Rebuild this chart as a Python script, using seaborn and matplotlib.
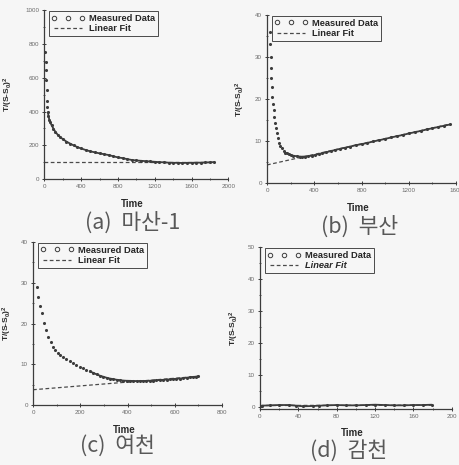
import pandas as pd
import matplotlib.pyplot as plt
from matplotlib.lines import Line2D
from matplotlib.ticker import MultipleLocator, AutoMinorLocator
import seaborn as sns

# (a) 마산-1
a_time = [10, 14, 18, 22, 26, 30, 34, 40, 45, 55, 65, 80, 100, 120, 145, 170, 200, 240, 280, 320,
          360, 400, 450, 500, 550, 600, 650, 700, 750, 800, 850, 900, 950, 1000, 1050, 1100, 1150,
          1200, 1250, 1300, 1350, 1400, 1450, 1500, 1550, 1600, 1650, 1700, 1750, 1800, 1840]
a_val = [750, 695, 645, 585, 530, 465, 428, 395, 375, 350, 335, 318, 298, 280, 263, 250, 237, 222, 210, 199,
         189, 181, 172, 164, 158, 152, 147, 142, 135, 128, 124, 118, 113, 110, 108, 106, 104,
         102, 100, 99, 97, 96, 96, 95, 96, 96, 97, 97, 98, 99, 100]
a_fit_time = [0, 1840]
a_fit_val = [100, 100]

# (b) 부산
b_time = [25, 28, 30, 33, 36, 40, 45, 50, 55, 62, 68, 76, 82, 90, 102, 112, 124, 140, 155, 167,
          185, 200, 223, 250, 275, 294, 320, 350, 378, 410, 440, 463, 500, 540, 576, 620, 660, 700,
          750, 800, 850, 900, 950, 1000, 1050, 1100, 1150, 1200, 1250, 1300, 1350, 1400, 1450, 1500, 1550]
b_val = [36, 33, 30.1, 27.5, 25, 22.9, 20.5, 18.8, 17.4, 15.8, 14.2, 13.0, 11.8, 10.6, 9.45, 8.8, 8.26, 7.6, 7.25, 7.07,
         6.8, 6.65, 6.5, 6.38, 6.3, 6.27, 6.3, 6.38, 6.5, 6.7, 6.9, 7.07, 7.3, 7.6, 7.86, 8.15, 8.4, 8.65,
         9.0, 9.25, 9.55, 9.9, 10.2, 10.5, 10.85, 11.15, 11.45, 11.8, 12.1, 12.4, 12.75, 13.05, 13.35, 13.65, 13.95]
b_fit_time = [0, 1550]
b_fit_val = [4.3, 14.05]

# (c) 여천
c_time = [17, 21, 30, 38, 45, 54, 64, 75, 85, 95, 105, 113, 125, 140, 155, 170, 184, 198, 212, 226,
          240, 255, 270, 283, 297, 311, 325, 340, 354, 367, 382, 396, 410, 424, 438, 452, 466, 480, 494, 508,
          522, 537, 551, 565, 579, 593, 607, 621, 635, 650, 664, 678, 690, 700]
c_val = [29.0, 26.4, 24.3, 22.5, 20.1, 18.4, 16.7, 15.5, 14.3, 13.5, 12.8, 12.25, 11.7, 11.2, 10.7, 10.2, 9.8, 9.4, 9.0, 8.6,
         8.25, 7.9, 7.5, 7.2, 6.95, 6.7, 6.5, 6.35, 6.2, 6.1, 6.0, 5.95, 5.93, 5.9, 5.88, 5.88, 5.9, 5.92, 5.96, 6.0,
         6.07, 6.13, 6.18, 6.25, 6.3, 6.38, 6.45, 6.5, 6.6, 6.7, 6.8, 6.9, 6.95, 7.05]
c_fit_time = [0, 700]
c_fit_val = [3.75, 7.04]

# (d) 감천
d_time = [2, 10, 20, 30, 38, 45, 55, 62, 70, 80, 90, 100, 110, 120, 130, 140, 150, 160, 170, 179]
d_val = [0.3, 0.4, 0.5, 0.5, 0.3, 0.1, 0.2, 0.3, 0.4, 0.5, 0.4, 0.4, 0.5, 0.6, 0.5, 0.4, 0.4, 0.5, 0.5, 0.6]
d_fit_time = [0, 179]
d_fit_val = [0.35, 0.45]

captions = ['(a)  마산-1', '(b)  부산', '(c)  여천', '(d)  감천']

INK = '#3c3c3c'
BG = '#f6f6f6'


def draw_panel(ax, time, val, fit_time, fit_val, xlim, xstep, ylim, ystep, dense_from, italic_fit=False):
    '''One Origin-style panel: measured points, dashed linear fit, boxed legend.'''
    df = pd.DataFrame({'Time': time, 'Value': val})
    sns.scatterplot(data=df, x='Time', y='Value', ax=ax, s=5, color=INK, linewidth=0, legend=False, zorder=3)
    dense = df[df['Time'] >= dense_from]
    sns.lineplot(data=dense, x='Time', y='Value', ax=ax, color=INK, lw=1.3, legend=False, zorder=3)
    fit = pd.DataFrame({'Time': fit_time, 'Value': fit_val})
    sns.lineplot(data=fit, x='Time', y='Value', ax=ax, color='#4a4a4a', lw=0.9, legend=False, zorder=2)
    ax.lines[-1].set_linestyle((0, (3, 2)))

    ax.set_xlim(*xlim)
    ax.set_ylim(*ylim)
    ax.xaxis.set_major_locator(MultipleLocator(xstep))
    ax.yaxis.set_major_locator(MultipleLocator(ystep))
    ax.xaxis.set_minor_locator(AutoMinorLocator(2))
    ax.yaxis.set_minor_locator(AutoMinorLocator(2))
    ax.tick_params(which='major', direction='inout', length=3.5, width=0.7, color=INK,
                   labelsize=4.5, labelcolor='#6a6a6a', pad=2)
    ax.tick_params(which='minor', direction='inout', length=2, width=0.6, color=INK)
    sns.despine(ax=ax)
    for side in ['left', 'bottom']:
        ax.spines[side].set_linewidth(0.9)
        ax.spines[side].set_color(INK)
    ax.set_facecolor(BG)

    ax.set_xlabel('Time', fontsize=7, fontweight='bold', color='#2a2a2a')
    ax.set_ylabel(r'T/(S-S$_0$)$^2$', fontsize=6, fontweight='bold', color='#2a2a2a')

    handles = [Line2D([], [], ls='none', marker='o', mfc='none', mec=INK, ms=3.2, mew=0.7),
               Line2D([], [], ls=(0, (3, 2)), color='#4a4a4a', lw=0.9)]
    leg = ax.legend(handles, ['Measured Data', 'Linear Fit'], numpoints=3, loc='upper left',
                    bbox_to_anchor=(0.025, 0.995), borderaxespad=0, frameon=True, fancybox=False,
                    edgecolor='#4a4a4a', facecolor=BG, framealpha=1,
                    prop={'size': 6.7, 'weight': 'bold'}, handlelength=3.6, handletextpad=0.4,
                    labelspacing=0.15, borderpad=0.3)
    leg.get_frame().set_linewidth(0.7)
    if italic_fit:
        leg.get_texts()[1].set_style('italic')
    return ax


def main():
    '''Four panels of T/(S-S0)^2 against time with their captions.'''
    sns.set_style('ticks')
    plt.rcParams['font.family'] = ['Liberation Sans', 'Noto Sans CJK KR', 'DejaVu Sans']
    plt.rcParams['mathtext.fontset'] = 'custom'
    plt.rcParams['mathtext.rm'] = 'Liberation Sans:bold'
    plt.rcParams['mathtext.bf'] = 'Liberation Sans:bold'
    plt.rcParams['mathtext.default'] = 'bf'

    fig = plt.figure(figsize=(4.59, 4.65), dpi=100, facecolor=BG)
    ax_a = fig.add_axes([0.0965, 0.615, 0.401, 0.363])
    ax_b = fig.add_axes([0.5817, 0.6065, 0.412, 0.361])
    ax_c = fig.add_axes([0.0719, 0.129, 0.412, 0.3505])
    ax_d = fig.add_axes([0.5664, 0.1204, 0.418, 0.348])

    draw_panel(ax_a, a_time, a_val, a_fit_time, a_fit_val, (0, 2000), 400, (0, 1000), 200, 35)
    draw_panel(ax_b, b_time, b_val, b_fit_time, b_fit_val, (0, 1600), 400, (0, 40), 10, 150)
    draw_panel(ax_c, c_time, c_val, c_fit_time, c_fit_val, (0, 800), 200, (0, 40), 10, 240)
    draw_panel(ax_d, d_time, d_val, d_fit_time, d_fit_val, (0, 200), 40, (-0.75, 50), 10, 0, italic_fit=True)

    ax_a.yaxis.set_label_coords(-0.16, 0.5)
    ax_b.yaxis.set_label_coords(-0.106, 0.5)
    ax_c.yaxis.set_label_coords(-0.10, 0.5)
    ax_d.yaxis.set_label_coords(-0.099, 0.5)
    for ax in [ax_a, ax_b, ax_c, ax_d]:
        ax.xaxis.set_label_coords(0.48, -0.12)

    cap_pos = [(133, 223), (360, 227), (117, 446), (349, 451)]
    for text, (px, py) in zip(captions, cap_pos):
        fig.text(px / 459, 1 - py / 465, text, ha='center', va='center', fontsize=15.5,
                 color='#585858', family=['Noto Sans CJK KR', 'DejaVu Sans'], fontweight='light')

    fig.savefig('out.png', dpi=100, facecolor=BG)


if __name__ == '__main__':
    main()
